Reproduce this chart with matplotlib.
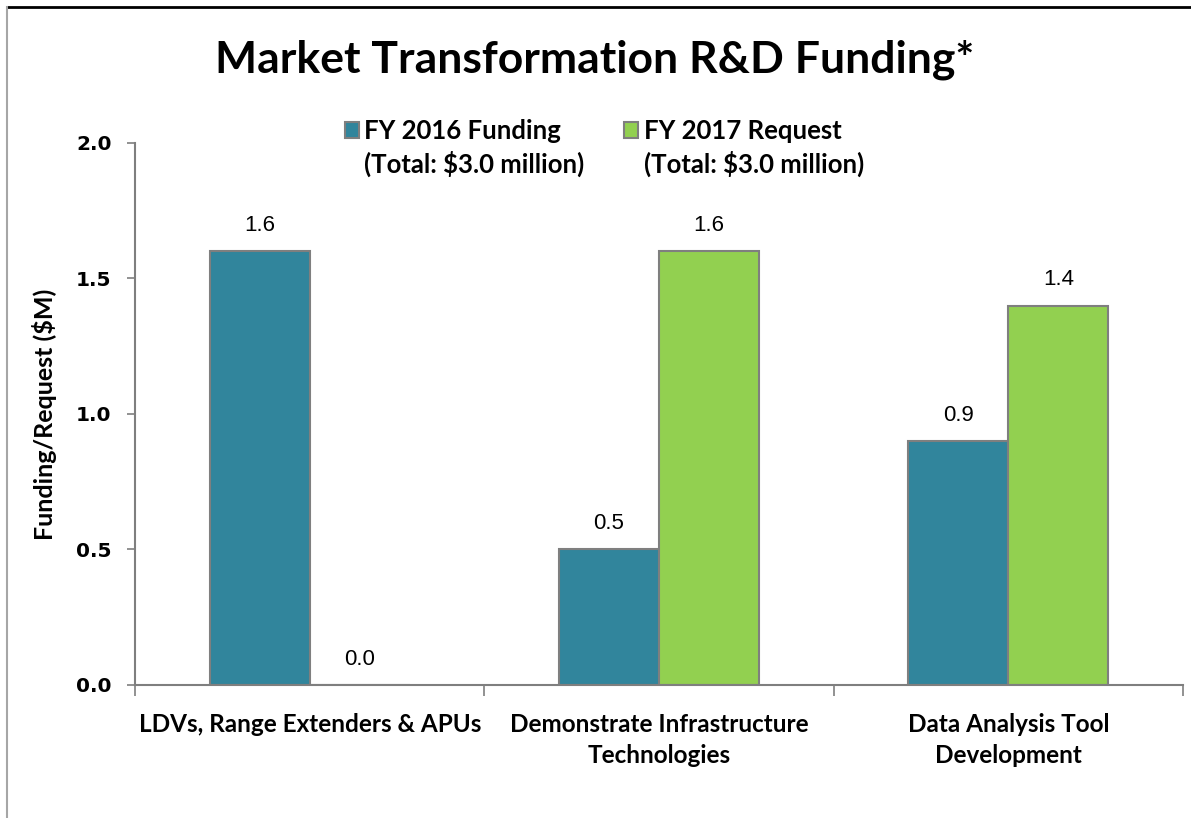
import matplotlib
matplotlib.use("Agg")
import matplotlib.pyplot as plt
from matplotlib.lines import Line2D
from matplotlib.patches import Patch
import numpy as np

categories = ["LDVs, Range Extenders & APUs", "Demonstrate Infrastructure\nTechnologies", "Data Analysis Tool\nDevelopment"]
fy2016 = [1.6, 0.5, 0.9]
fy2017 = [0.0, 1.6, 1.4]
series_labels = ["FY 2016 Funding\n(Total: $3.0 million)", "FY 2017 Request\n(Total: $3.0 million)"]
yticks = [0.0, 0.5, 1.0, 1.5, 2.0]

calib = "Lato"
teal = "#31859C"
green = "#92D050"
edge = "#7F7F7F"

fig = plt.figure(figsize=(11.91, 8.18), dpi=100)
ax = fig.add_axes([0.1134, 0.1626, 0.8799, 0.6626])

x = np.arange(len(categories)) + 0.5
w = 0.2865
b1 = ax.bar(x - w/2, fy2016, w, color=teal, edgecolor=edge, linewidth=1.5)
b2 = ax.bar(x + w/2, fy2017, w, color=green, edgecolor=edge, linewidth=1.5)

for bars, vals in ((b1, fy2016), (b2, fy2017)):
    for r, v in zip(bars, vals):
        ax.annotate(f"{v:.1f}", (r.get_x() + r.get_width()/2, v), xytext=(0, 11),
                    textcoords="offset points", ha="center", va="bottom",
                    fontsize=16, family="Liberation Sans")

ax.set_xlim(0, 3)
ax.set_ylim(0, 2.0)
ax.set_yticks(yticks)
ax.set_yticklabels([f"{t:.1f}" for t in yticks], fontsize=14.5, fontweight="bold", family="DejaVu Sans")
ax.set_xticks([0, 1, 2, 3])
ax.set_xticklabels([])
ax.set_xticks(x, minor=True)
ax.set_xticklabels(categories, minor=True, fontsize=17.5, fontweight="bold", family=calib, linespacing=1.45)
ax.tick_params(axis="x", which="minor", length=0, pad=20)
ax.tick_params(axis="x", which="major", length=8, color=edge, width=1.2)
ax.tick_params(axis="y", length=6, color=edge, width=1.2, pad=11)

for s in ("top", "right"):
    ax.spines[s].set_visible(False)
for s in ("left", "bottom"):
    ax.spines[s].set_color(edge)
    ax.spines[s].set_linewidth(1.5)

ax.set_ylabel("Funding/Request ($M)", fontsize=18, fontweight="bold", family=calib, labelpad=14)

fig.text(0.4996, 0.927, "Market Transformation R&D Funding*", ha="center", va="center",
         fontsize=32, fontweight="bold", family=calib)

blank = Patch(facecolor="none", edgecolor="none")
l1 = series_labels[0].split("\n")
l2 = series_labels[1].split("\n")
leg = fig.legend([b1, blank, b2, blank], [l1[0], l1[1], l2[0], l2[1]],
                 loc="upper left", bbox_to_anchor=(345/1191, 1 - 119/818), ncol=2, frameon=False,
                 prop={"family": calib, "weight": "bold", "size": 18.5},
                 handlelength=0.55, handleheight=0.55, handletextpad=0.2,
                 columnspacing=1.55, labelspacing=0.3, borderpad=0, borderaxespad=0)

fig.add_artist(Line2D([0.006, 1.0], [0.991, 0.991], color="black", linewidth=2))
fig.add_artist(Line2D([0.006, 0.006], [0.0, 0.991], color="#A6A6A6", linewidth=1.5))

fig.savefig("out.png", dpi=100)
